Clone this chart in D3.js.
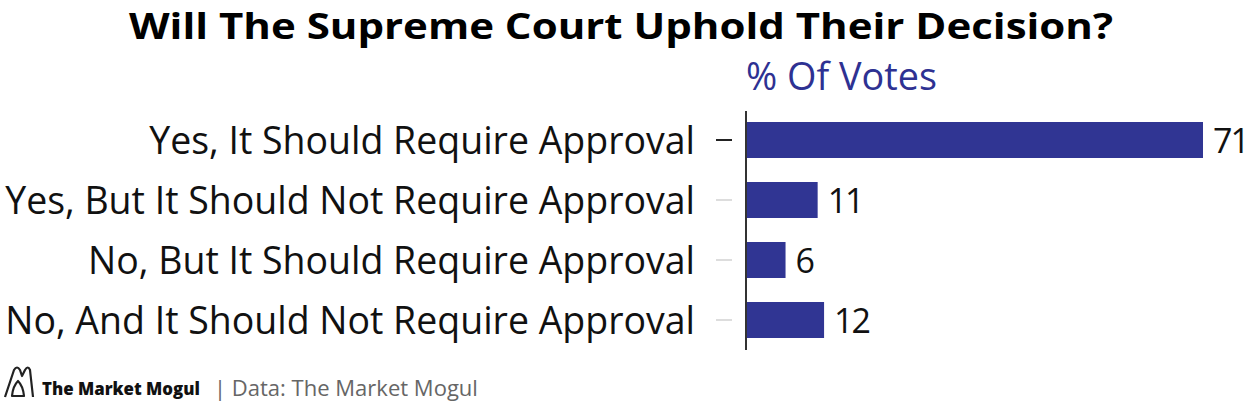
<!DOCTYPE html>
<html><head><meta charset="utf-8">
<script src="https://cdn.jsdelivr.net/npm/d3@7"></script>
<style>body{margin:0;background:#fff}svg{display:block}</style>
</head><body>
<script>
const categories = ["Yes, It Should Require Approval","Yes, But It Should Not Require Approval","No, But It Should Require Approval","No, And It Should Not Require Approval"];
const votes = [71, 11, 6, 12];
const title = "Will The Supreme Court Uphold Their Decision?";
const axisTitle = "% Of Votes";

const W = 1247, H = 404;
const svg = d3.select("body").append("svg").attr("width", W).attr("height", H);
const font = "'Open Sans', sans-serif";

// scale a text's font size so that its rendered width matches a target
function fitWidth(sel, target) {
  const node = sel.node();
  const fs = parseFloat(sel.attr("font-size"));
  const w = node.getComputedTextLength();
  sel.attr("font-size", fs * target / w);
}

const x = d3.scaleLinear().domain([0, 71]).range([747, 1203]);
const y = d3.scaleBand().domain(categories).range([110, 350]).paddingInner(0.4).paddingOuter(0.2);

svg.append("text").attr("x", 621).attr("y", 39).attr("text-anchor", "middle")
  .attr("font-family", font).attr("font-weight", 700).attr("font-size", 36)
  .attr("textLength", 984).attr("lengthAdjust", "spacingAndGlyphs")
  .attr("fill", "#000").text(title);

const at = svg.append("text").attr("x", 746).attr("y", 90).attr("font-family", font).attr("font-size", 33)
  .attr("fill", "#2e3192").text(axisTitle);
fitWidth(at, 191);

svg.selectAll("rect.bar").data(votes).join("rect").attr("class", "bar")
  .attr("x", x(0)).attr("y", (d, i) => y(categories[i]))
  .attr("width", d => x(d) - x(0)).attr("height", y.bandwidth())
  .attr("fill", "#303593");

const yAxis = d3.axisLeft(y).tickSize(16).tickPadding(21);
const g = svg.append("g").attr("transform", "translate(732,0)").call(yAxis);
g.select(".domain").remove();
g.selectAll(".tick line").attr("stroke", (d, i) => i === 0 ? "#222" : "#ddd").attr("stroke-width", 2);
const labels = g.selectAll(".tick text").attr("font-family", font).attr("font-size", 34).attr("fill", "#111")
  .attr("dy", "0.36em");
let maxW = 0;
labels.each(function() { maxW = Math.max(maxW, this.getComputedTextLength()); });
labels.attr("font-size", 34 * 690 / maxW);

svg.append("line").attr("x1", 746).attr("x2", 746).attr("y1", 111).attr("y2", 350)
  .attr("stroke", "#333").attr("stroke-width", 2);

svg.selectAll("text.val").data(votes).join("text").attr("class", "val")
  .attr("x", d => x(d) + 10).attr("y", (d, i) => y(categories[i]) + y.bandwidth() / 2)
  .attr("dy", "0.37em").attr("font-family", font).attr("font-size", 34).attr("fill", "#111")
  .attr("letter-spacing", -2)
  .text(d => d);

// footer
const lg = svg.append("g").attr("transform", "translate(4,366)").attr("fill", "none").attr("stroke", "#222").attr("stroke-width", 2.2).attr("stroke-linejoin", "round");
lg.append("path").attr("d", "M1,31 L10,4 Q13,-1 16,4 L18,10 L21,4 Q24,-1 26,4 L29,31");
lg.append("path").attr("d", "M8,30 Q9,20 14,15 Q19,20 20,30 Z");
const brand = svg.append("text").attr("x", 42).attr("y", 395).attr("font-family", font).attr("font-weight", 800)
  .attr("font-size", 18).attr("fill", "#111").text("The Market Mogul");
fitWidth(brand, 158);
const src = svg.append("text").attr("x", 214).attr("y", 396).attr("font-family", font)
  .attr("font-size", 19).attr("fill", "#666").text("| Data: The Market Mogul");
fitWidth(src, 264);
</script>
</body></html>
